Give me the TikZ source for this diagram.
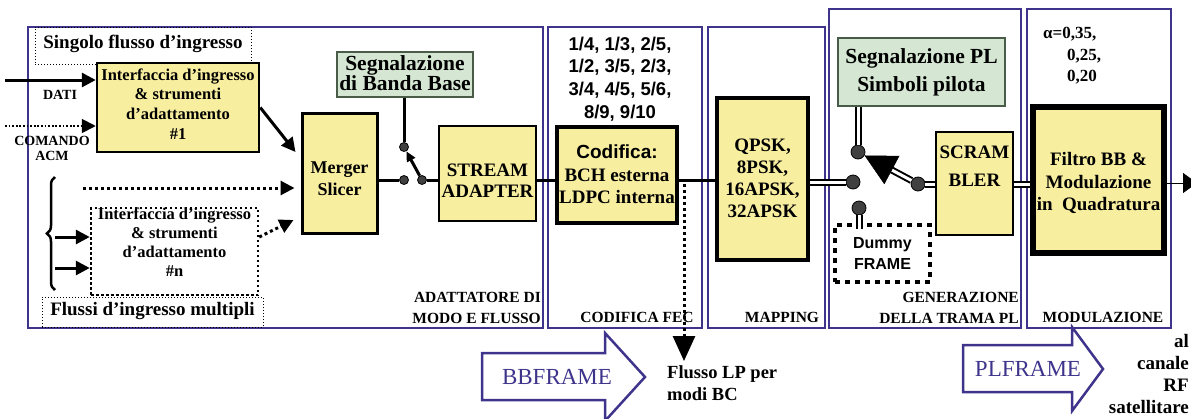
\documentclass[tikz,border=0pt]{standalone}
\usepackage{fontspec}
\setmainfont{Liberation Serif}
\newfontfamily\arialfont{Liberation Sans}
\usetikzlibrary{arrows.meta,calc,decorations.pathreplacing}

\definecolor{boxyellow}{RGB}{248,238,160}
\definecolor{siggreen}{RGB}{213,231,211}
\definecolor{sigedge}{RGB}{72,92,72}
\definecolor{panelblue}{RGB}{62,52,140}
\definecolor{contact}{RGB}{64,64,64}

\newcommand\fsz[2]{\fontsize{#1}{#2}\selectfont}

\begin{document}
\begin{tikzpicture}[x=1pt,y=-1pt,
  panel/.style={draw=panelblue,line width=1.6pt},
  blk/.style={draw=black,fill=boxyellow,inner sep=0pt},
  sig/.style={draw=sigedge,fill=siggreen,line width=2pt,inner sep=0pt},
  txt/.style={align=center,inner sep=0pt,font=\bfseries},
  lbl/.style={inner sep=0pt,font=\bfseries\fsz{15.5}{21}},
  wire/.style={draw=black,line width=3pt},
  dbl/.style={draw=black,double=white,double distance=3pt,line width=2pt},
  tipS/.style={-{Triangle[length=14pt,width=14pt]}},
  contactS/.style={circle,draw=black,fill=contact,line width=0.8pt,minimum size=9pt,inner sep=0pt},
  contactL/.style={circle,draw=black,fill=contact,line width=0.8pt,minimum size=14pt,inner sep=0pt},
  bigarrow/.style={draw=panelblue,line width=2.5pt,fill=white,line join=miter},
  bigtxt/.style={inner sep=0pt,text=panelblue,font=\fsz{23}{23}}
]
\useasboundingbox (0,0) rectangle (1191,418);

% ---------- section frames ----------
\draw[panel] (28,27) rectangle (543,328);
\draw[panel] (548,27) rectangle (702,328);
\draw[panel] (708,27) rectangle (825,328);
\draw[panel] (829,9) rectangle (1021,328);
\draw[panel] (1027,9) rectangle (1171,328);

\node[lbl,anchor=east,align=right] (labA) at (541,308) {ADATTATORE DI\\MODO E FLUSSO};
\node[lbl] (labB) at (637,317) {CODIFICA FEC};
\node[lbl] (labC) at (782,317) {MAPPING};
\node[lbl,anchor=east,align=right] (labD) at (1019,308) {GENERAZIONE\\DELLA TRAMA PL};
\node[lbl] (labE) at (1103,317) {MODULAZIONE};

% ---------- mode and stream adaptation ----------
\node[draw,dotted,line width=1pt,minimum width=216pt,minimum height=37pt,inner sep=0pt] (single) at (143,45.5) {};
\node[txt,font=\bfseries\fsz{19}{21}] (singleT) at (143,44) {Singolo flusso d’ingresso};

\node[blk,line width=2.5pt,minimum width=162pt,minimum height=89pt] (if1) at (178,107.5) {};
\node[txt,font=\bfseries\fsz{16.5}{19.8}] (if1T) at (178,104) {Interfaccia d’ingresso\\\& strumenti\\d’adattamento\\\#1};

\coordinate (datiIn) at (5,80);
\coordinate (acmIn) at (5,126);
\draw[wire,tipS] (datiIn) -- (if1.west |- datiIn);
\draw[line width=1.8pt,dash pattern=on 1.8pt off 1.8pt,tipS] (acmIn) -- (if1.west |- acmIn);
\node[txt,font=\bfseries\fsz{14}{15}] (dati) at (60,95) {DATI};
\node[txt,font=\bfseries\fsz{14}{15}] (acm) at (52,148) {COMANDO\\ACM};

\node[draw,line width=2.5pt,dash pattern=on 2.5pt off 2.5pt,minimum width=167pt,minimum height=87pt,inner sep=0pt] (ifn) at (174.5,251.5) {};
\node[txt,font=\bfseries\fsz{16.5}{19}] (ifnT) at (174.5,242) {Interfaccia d’ingresso\\\& strumenti\\d’adattamento\\\#n};

\node[draw,dotted,line width=1pt,minimum width=221pt,minimum height=30pt,inner sep=0pt] (multi) at (152.5,312) {};
\node[txt,font=\bfseries\fsz{19}{21}] (multiT) at (152.5,311) {Flussi d’ingresso multipli};

\draw[line width=2.5pt,decorate,decoration={brace,amplitude=8pt}] (55,290) -- (55,177);
\coordinate (in1) at (55,237);
\coordinate (in2) at (55,268);
\draw[wire,tipS] (in1) -- (ifn.west |- in1);
\draw[wire,tipS] (in2) -- (ifn.west |- in2);

\node[blk,line width=3pt,minimum width=75pt,minimum height=120pt] (merger) at (339.5,173) {};
\node[txt,font=\bfseries\fsz{18}{22}] (mergerT) at (339.5,179) {Merger\\Slicer};

\draw[wire,tipS] (if1.east) -- ($(merger.west)+(-5,-21)$);
\coordinate (midIn) at (83,188);
\draw[line width=3pt,dash pattern=on 3pt off 3pt,tipS] (midIn) -- ($(merger.west |- midIn)+(-6,0)$);
\draw[line width=3pt,dash pattern=on 3pt off 3pt,tipS] (ifn.east |- in1) -- ($(merger.west)+(-7,47)$);

\node[sig,minimum width=136pt,minimum height=45pt] (bbsig) at (405,74.5) {};
\node[txt,font=\bfseries\fsz{21.5}{19}] (bbsigT) at (405,73) {Segnalazione\\di Banda Base};

\node[blk,line width=2pt,minimum width=97pt,minimum height=95pt] (stream) at (487.5,173.5) {};
\node[txt,font=\bfseries\fsz{19}{21}] (streamT) at (487.5,181) {STREAM\\ADAPTER};

\node[contactS] (k1) at (404,147) {};
\node[contactS] (k2) at (404,180) {};
\node[contactS] (k3) at (422,180) {};
\draw[wire] (merger.east |- k2) -- (k2);
\draw[wire] (bbsig.south -| k1) -- (k1);
\draw[wire] (k3) -- (stream.west |- k3);
\draw[wire,-{Triangle[length=10pt,width=9pt]}] (k3) -- (k1);

% ---------- FEC coding ----------
\node[txt,font=\arialfont\bfseries\fsz{18.5}{22.7}] (rates) at (620,79) {1/4, 1/3, 2/5,\\1/2, 3/5, 2/3,\\3/4, 4/5, 5/6,\\8/9, 9/10};
\node[blk,line width=4pt,minimum width=120pt,minimum height=96pt] (cod) at (617,175) {};
\node[txt,font=\bfseries\fsz{19}{22.5}] (codT) at (617,174.5) {{\arialfont\bfseries Codifica:}\\BCH esterna\\LDPC interna};
\draw[wire] (stream.east |- k2) -- (cod.west |- k2);

\coordinate (lpTop) at (684,180);
\coordinate (lpEnd) at (684,361);
\draw[line width=3pt,dash pattern=on 3pt off 3pt,-{Triangle[length=25pt,width=22pt]}] ($(lpTop)+(0,4)$) -- (lpEnd);
\node[txt,anchor=west,align=left,font=\bfseries\fsz{18.5}{21.5}] (lpT) at (667,383) {Flusso LP per\\modi BC};

% ---------- mapping ----------
\node[blk,line width=4.5pt,minimum width=91pt,minimum height=162pt] (map) at (762.5,179) {};
\node[txt,font=\bfseries\fsz{19}{22}] (mapT) at (762.5,178) {QPSK,\\8PSK,\\16APSK,\\32APSK};
\draw[wire] (cod.east |- k2) -- (map.west |- k2);

% ---------- PL framing ----------
\node[sig,minimum width=167pt,minimum height=68pt] (plsig) at (921.5,72) {};
\node[txt,font=\bfseries\fsz{21.5}{28}] (plsigT) at (921.5,72) {Segnalazione PL\\Simboli pilota};

\node[draw,line width=4pt,dash pattern=on 5pt off 5pt,minimum width=95pt,minimum height=57pt,inner sep=0pt] (dummy) at (882.5,253.5) {};
\node[txt,font=\arialfont\bfseries\fsz{16}{21}] (dummyT) at (882.5,253.5) {Dummy\\FRAME};

\node[blk,line width=1.5pt,minimum width=77pt,minimum height=103pt] (scram) at (974.5,183.5) {};
\node[txt,font=\bfseries\fsz{19}{28}] (scramT) at (974.5,166) {SCRAM\\BLER};

\node[contactL] (ctop) at (858,152) {};
\node[contactL] (cmid) at (853,182) {};
\node[contactL] (cbot) at (859,208) {};
\node[contactL] (cright) at (918,184) {};

\draw[dbl] (map.east |- cmid) -- (cmid);
\draw[dbl] (plsig.south -| ctop) -- (ctop);
\draw[dbl] (cbot) -- ($(dummy.north -| cbot)+(0,6)$);
\draw[dbl] (cright) -- ($(ctop)!36pt!(cright)$);
\draw[line width=0.5pt,-{Triangle[length=31pt,width=32pt]}] ($(ctop)!37pt!(cright)$) -- (ctop);
\draw[dbl] (cright) -- (scram.west |- cright);

% ---------- modulation ----------
\node[txt,anchor=west,align=left,font=\bfseries\fsz{17}{21.5}] (alpha) at (1043,56) {α=0,35,\\\hspace*{24pt}0,25,\\\hspace*{24pt}0,20};
\node[blk,line width=5.5pt,minimum width=131pt,minimum height=146pt] (filt) at (1098.5,180) {};
\node[txt,font=\bfseries\fsz{19}{22.5}] (filtT) at (1098.5,183) {Filtro BB \&\\Modulazione\\in~~Quadratura};
\draw[dbl] (scram.east |- cright) -- (filt.west |- cright);

\coordinate (rfOut) at (1197,183);
\draw[line width=1pt,-{Triangle[length=14pt,width=20pt]}] (filt.east |- rfOut) -- (rfOut);
\node[txt,anchor=east,align=right,font=\bfseries\fsz{19}{22.3}] (rfT) at (1189,374) {al\\canale\\RF\\satellitare};

% ---------- frame arrows ----------
\draw[bigarrow] (482,353) -- (605,353) -- (605,333) -- (645,377) -- (605,421) -- (605,400) -- (482,400) -- cycle;
\node[bigtxt] (bbf) at (557,377) {BBFRAME};
\draw[bigarrow] (963,345) -- (1072,345) -- (1072,327) -- (1103,369) -- (1072,411) -- (1072,392) -- (963,392) -- cycle;
\node[bigtxt] (plf) at (1028,369) {PLFRAME};
\end{tikzpicture}
\end{document}
